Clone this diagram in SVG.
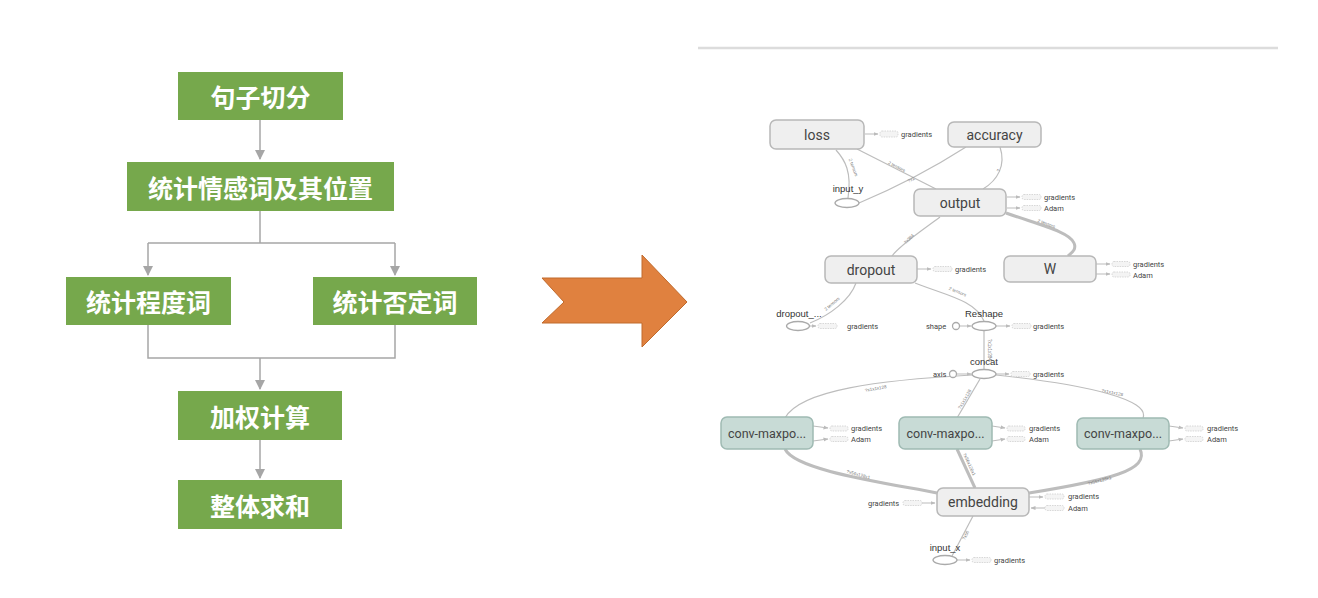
<svg xmlns="http://www.w3.org/2000/svg" width="1318" height="598" viewBox="0 0 1318 598">
<defs>
<style>
.gbox{fill:#76a84c}
.gtxt{font-family:"Noto Sans CJK SC","Noto Sans",sans-serif;font-size:25px;font-weight:bold;fill:#fff;text-anchor:middle;dominant-baseline:central}
.flow{fill:none;stroke:#a6a6a6;stroke-width:1.5}
.tn{fill:#efefef;stroke:#b8b8b8;stroke-width:1.5}
.cn{fill:#c8dbd6;stroke:#9fbab3;stroke-width:1.5}
.tt{font-family:Roboto,"Liberation Sans",sans-serif;font-size:14px;fill:#444;text-anchor:middle;dominant-baseline:central}
.ct{font-size:12.5px}
.st{font-family:Roboto,"Liberation Sans",sans-serif;font-size:7.5px;fill:#444;dominant-baseline:central}
.lt{font-family:"Liberation Sans",sans-serif;font-size:9.5px;fill:#333;text-anchor:middle}
.el{font-family:"Liberation Sans",sans-serif;font-size:4.5px;fill:#777;text-anchor:middle}
.ov{fill:#fff;stroke:#aaa;stroke-width:1.3}
.sb{fill:#f4f4f4;stroke:#cfcfcf;stroke-width:0.8;stroke-dasharray:1.5 1}
.thin{fill:none;stroke:#bdbdbd;stroke-width:1.2}
.thick{fill:none;stroke:#bdbdbd;stroke-width:3}
.aux{fill:none;stroke:#bbb;stroke-width:1}
</style>
<marker id="ga" viewBox="0 0 10 10" refX="9" refY="5" markerWidth="7" markerHeight="7" orient="auto"><path d="M0,0 L10,5 L0,10 z" fill="#a6a6a6"/></marker>
<marker id="sa" viewBox="0 0 10 10" refX="9" refY="5" markerWidth="5" markerHeight="5" orient="auto"><path d="M0,1 L10,5 L0,9 z" fill="#bbb"/></marker>
</defs>
<rect width="1318" height="598" fill="#fff"/>

<!-- Left flowchart connectors -->
<g id="flow-connectors">
<path class="flow" d="M260,120 V159" marker-end="url(#ga)"/>
<path class="flow" d="M260,211 V243 M148,243 H395"/>
<path class="flow" d="M148,243 V275" marker-end="url(#ga)"/>
<path class="flow" d="M395,243 V275" marker-end="url(#ga)"/>
<path class="flow" d="M148,325 V358 H395 V325"/>
<path class="flow" d="M260,358 V389" marker-end="url(#ga)"/>
<path class="flow" d="M260,440 V478" marker-end="url(#ga)"/>
</g>
<g id="f1"><rect class="gbox" x="178" y="72" width="165" height="48"/><text class="gtxt" x="260.5" y="96">句子切分</text></g>
<g id="f2"><rect class="gbox" x="127" y="162" width="267" height="49"/><text class="gtxt" x="260.5" y="186.5">统计情感词及其位置</text></g>
<g id="f3"><rect class="gbox" x="66" y="277" width="165" height="48"/><text class="gtxt" x="148.5" y="301">统计程度词</text></g>
<g id="f4"><rect class="gbox" x="313" y="277" width="164" height="48"/><text class="gtxt" x="395" y="301">统计否定词</text></g>
<g id="f5"><rect class="gbox" x="178" y="391" width="164" height="49"/><text class="gtxt" x="260" y="415.5">加权计算</text></g>
<g id="f6"><rect class="gbox" x="178" y="480" width="164" height="49"/><text class="gtxt" x="260" y="504.5">整体求和</text></g>

<!-- Big orange arrow -->
<g id="big-arrow"><polygon points="542,278 564,302 542,323 642,323 642,347 687,302 642,255 642,278" fill="#e0813f" stroke="#c06a2c" stroke-width="1"/></g>

<!-- top rule -->
<line x1="698" y1="48" x2="1278" y2="48" stroke="#dcdcdc" stroke-width="2.5"/>

<!-- TensorBoard connectors -->
<g id="tb-connectors">
<path class="thin" d="M836,150 C845,160 852,172 848,198"/>
<path class="thin" d="M857,149 L936,189"/>
<path class="thin" d="M966,147 C930,170 890,190 859,203"/>
<path class="thin" d="M1000,147 C1006,165 998,180 983,189"/>
<path class="thick" d="M1006,213 C1040,225 1070,232 1074,243 C1077,250 1071,253 1068,256"/>
<path class="thin" d="M940,217 C920,232 900,245 892,256"/>
<path class="thin" d="M856,283 C850,300 830,315 810,323"/>
<path class="thin" d="M915,283 C945,295 975,300 984,321"/>
<path class="thin" d="M984,331 V370"/>
<path class="thin" d="M972,375 C880,380 800,390 785,418"/>
<path class="thin" d="M980,379 L957,418"/>
<path class="thin" d="M996,375 C1090,385 1150,400 1143,418"/>
<path class="thick" d="M785,449 C795,470 880,482 937,493"/>
<path class="thick" d="M957,449 L975,488"/>
<path class="thick" d="M1140,449 C1150,470 1110,480 1029,493"/>
<path class="thin" d="M973,516 L952,556"/>
<!-- aux arrows -->
<path class="aux" d="M865,134 H878" marker-end="url(#sa)"/>
<path class="aux" d="M1007,197 H1020" marker-end="url(#sa)"/>
<path class="aux" d="M1007,208 H1020" marker-end="url(#sa)"/>
<path class="aux" d="M1096,264 H1110" marker-end="url(#sa)"/>
<path class="aux" d="M1096,274 H1110" marker-end="url(#sa)"/>
<path class="aux" d="M917,269 H931" marker-end="url(#sa)"/>
<path class="aux" d="M810,326 H816" marker-end="url(#sa)"/>
<path class="aux" d="M960,326 H971" marker-end="url(#sa)"/>
<path class="aux" d="M996,326 H1010" marker-end="url(#sa)"/>
<path class="aux" d="M957,374 H971" marker-end="url(#sa)"/>
<path class="aux" d="M996,374 H1009" marker-end="url(#sa)"/>
<path class="aux" d="M813,426 L828,428" marker-end="url(#sa)"/>
<path class="aux" d="M813,441 L828,439" marker-end="url(#sa)"/>
<path class="aux" d="M992,426 L1005,428" marker-end="url(#sa)"/>
<path class="aux" d="M992,441 L1005,439" marker-end="url(#sa)"/>
<path class="aux" d="M1169,426 L1183,428" marker-end="url(#sa)"/>
<path class="aux" d="M1169,441 L1183,439" marker-end="url(#sa)"/>
<path class="aux" d="M922,503 H935" marker-end="url(#sa)"/>
<path class="aux" d="M1029,497 H1043" marker-end="url(#sa)"/>
<path class="aux" d="M1045,508 H1031" marker-end="url(#sa)"/>
<path class="aux" d="M957,560 H970" marker-end="url(#sa)"/>
<!-- edge labels -->
<text class="el" transform="translate(852,168) rotate(70)">2 tensors</text>
<text class="el" transform="translate(896,168) rotate(27)">2 tensors</text>
<text class="el" transform="translate(912,181) rotate(-30)">?x2</text>
<text class="el" transform="translate(1000,171) rotate(-70)">?</text>
<text class="el" transform="translate(1046,225) rotate(20)">2 tensors</text>
<text class="el" transform="translate(910,240) rotate(-45)">?x384</text>
<text class="el" transform="translate(833,305) rotate(-40)">2 tensors</text>
<text class="el" transform="translate(957,293) rotate(22)">2 tensors</text>
<text class="el" transform="translate(988,350) rotate(90)">?x1x1x384</text>
<text class="el" transform="translate(876,390) rotate(-10)">?x1x1x128</text>
<text class="el" transform="translate(966,400) rotate(-60)">?x1x1x128</text>
<text class="el" transform="translate(1112,394) rotate(12)">?x1x1x128</text>
<text class="el" transform="translate(858,476) rotate(15)">?x56x128x1</text>
<text class="el" transform="translate(968,465) rotate(65)">?x56x128x1</text>
<text class="el" transform="translate(1100,482) rotate(-15)">?x56x128x1</text>
<text class="el" transform="translate(967,536) rotate(-62)">?x56</text>
</g>

<g id="loss"><rect class="tn" x="770" y="120" width="94" height="29" rx="6"/><text class="tt" x="817" y="134.5">loss</text>
<rect class="sb" x="880" y="131" width="18" height="6" rx="2"/><text class="st" x="901" y="134">gradients</text></g>
<g id="accuracy"><rect class="tn" x="948" y="122" width="93" height="25" rx="6"/><text class="tt" x="994.5" y="134.5">accuracy</text></g>
<g id="input_y"><text class="lt" x="848" y="192">input_y</text><ellipse class="ov" cx="847" cy="203" rx="12" ry="4.5"/></g>
<g id="output"><rect class="tn" x="914" y="189" width="92" height="27" rx="6"/><text class="tt" x="960" y="202.5">output</text>
<rect class="sb" x="1022" y="194.5" width="19" height="5" rx="2"/><rect class="sb" x="1022" y="205.5" width="19" height="5" rx="2"/>
<text class="st" x="1044" y="197">gradients</text><text class="st" x="1044" y="208">Adam</text></g>
<g id="W"><rect class="tn" x="1004" y="256" width="92" height="26" rx="6"/><text class="tt" x="1050" y="269">W</text>
<rect class="sb" x="1112" y="261.5" width="18" height="5" rx="2"/><rect class="sb" x="1112" y="272" width="18" height="5" rx="2"/>
<text class="st" x="1133" y="264">gradients</text><text class="st" x="1133" y="275">Adam</text></g>
<g id="dropout"><rect class="tn" x="825" y="256" width="92" height="27" rx="6"/><text class="tt" x="871" y="269.5">dropout</text>
<rect class="sb" x="933" y="266.5" width="19" height="5" rx="2"/><text class="st" x="955" y="269">gradients</text></g>
<g id="dropout_"><text class="lt" x="799" y="317">dropout_...</text><ellipse class="ov" cx="798" cy="326" rx="11.5" ry="4.5"/>
<rect class="sb" x="818" y="323.5" width="19" height="5" rx="2"/><text class="st" x="847" y="326">gradients</text></g>
<g id="Reshape"><text class="lt" x="984" y="317">Reshape</text><ellipse class="ov" cx="984" cy="326" rx="12" ry="4.5"/>
<text class="st" x="926" y="326">shape</text><circle class="ov" cx="956" cy="326" r="3.5"/>
<rect class="sb" x="1012" y="323.5" width="19" height="5" rx="2"/><text class="st" x="1033" y="326">gradients</text></g>
<g id="concat"><text class="lt" x="984" y="365">concat</text><ellipse class="ov" cx="984" cy="374" rx="12" ry="4.5"/>
<text class="st" x="933" y="374">axis</text><circle class="ov" cx="953" cy="374" r="3.5"/>
<rect class="sb" x="1011" y="371.5" width="19" height="5" rx="2"/><text class="st" x="1033" y="374">gradients</text></g>
<g id="conv1"><rect class="cn" x="721" y="417" width="92" height="32" rx="6"/><text class="tt ct" x="767" y="433">conv-maxpo...</text>
<rect class="sb" x="830" y="426" width="18" height="5" rx="2"/><rect class="sb" x="830" y="436.5" width="18" height="5" rx="2"/>
<text class="st" x="851" y="428.5">gradients</text><text class="st" x="851" y="439">Adam</text></g>
<g id="conv2"><rect class="cn" x="899" y="417" width="93" height="32" rx="6"/><text class="tt ct" x="945.5" y="433">conv-maxpo...</text>
<rect class="sb" x="1007" y="426" width="18" height="5" rx="2"/><rect class="sb" x="1007" y="436.5" width="18" height="5" rx="2"/>
<text class="st" x="1029" y="428.5">gradients</text><text class="st" x="1029" y="439">Adam</text></g>
<g id="conv3"><rect class="cn" x="1077" y="418" width="92" height="31" rx="6"/><text class="tt ct" x="1123" y="433.5">conv-maxpo...</text>
<rect class="sb" x="1185" y="426" width="18" height="5" rx="2"/><rect class="sb" x="1185" y="436.5" width="18" height="5" rx="2"/>
<text class="st" x="1207" y="428.5">gradients</text><text class="st" x="1207" y="439">Adam</text></g>
<g id="embedding"><rect class="tn" x="937" y="488" width="92" height="28" rx="6"/><text class="tt" x="983" y="502">embedding</text>
<text class="st" x="868" y="503">gradients</text><rect class="sb" x="903" y="500.5" width="19" height="5" rx="2"/>
<rect class="sb" x="1045" y="494" width="19" height="5" rx="2"/><rect class="sb" x="1045" y="505.5" width="19" height="5" rx="2"/>
<text class="st" x="1068" y="496">gradients</text><text class="st" x="1068" y="508">Adam</text></g>
<g id="input_x"><text class="lt" x="945" y="551">input_x</text><ellipse class="ov" cx="945" cy="560" rx="12" ry="4.5"/>
<rect class="sb" x="972" y="557.5" width="19" height="5" rx="2"/><text class="st" x="994" y="560">gradients</text></g>
</svg>
